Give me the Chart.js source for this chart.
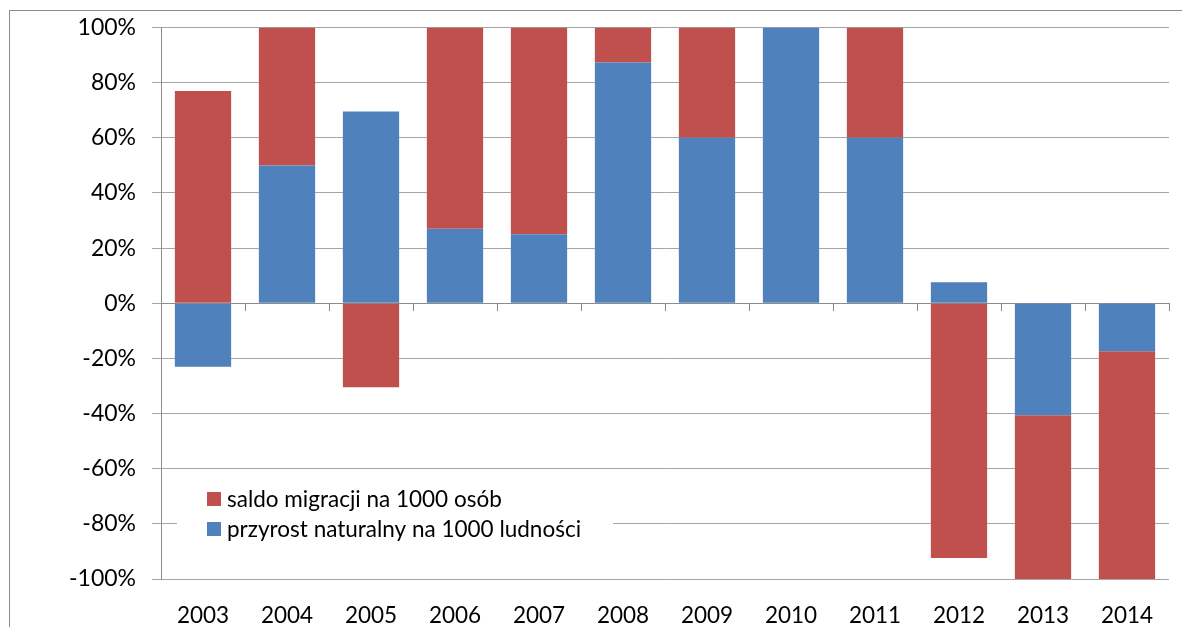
<!DOCTYPE html>
<html>
<head>
<meta charset="utf-8">
<script src="https://cdn.jsdelivr.net/npm/chart.js@4"></script>
<style>
  html, body { margin: 0; padding: 0; background: #fff; }
  #wrap { position: relative; width: 1182px; height: 627px; overflow: hidden; }
  #frame { position: absolute; left: 9px; top: 10px; width: 1200px; height: 700px; border: 1px solid #8c8c8c; box-sizing: border-box; }
  canvas { position: absolute; left: 0; top: 0; }
</style>
</head>
<body>
<div id="wrap">
  <div id="frame"></div>
  <canvas id="chart" width="1182" height="627"></canvas>
</div>
<script>
// lata
const years = ['2003', '2004', '2005', '2006', '2007', '2008', '2009', '2010', '2011', '2012', '2013', '2014'];
// udział w %
const przyrostNaturalny = [-23, 50, 69.5, 27, 25, 87.3, 60, 100, 60, 7.6, -40.6, -17.4];
const saldoMigracji = [77, 50, -30.5, 73, 75, 12.7, 40, 0, 40, -92.4, -59.4, -82.6];
const yTicks = [-100, -80, -60, -40, -20, 0, 20, 40, 60, 80, 100];

const FONT = 'Lato, "Noto Sans", sans-serif';
const RED = '#C0504D';
const BLUE = '#4F81BD';

// legenda wewnątrz obszaru wykresu (lewy dół)
const insideLegend = {
    id: 'insideLegend',
    afterDatasetsDraw(chart) {
        const c = chart.ctx;
        const items = [chart.data.datasets[1], chart.data.datasets[0]];
        c.save();
        c.fillStyle = '#fff';
        c.fillRect(177, 475, 436, 70);
        c.font = '22.5px ' + FONT;
        c.textBaseline = 'middle';
        items.forEach((ds, i) => {
            const y = 499 + i * 30;
            c.fillStyle = ds.backgroundColor;
            c.fillRect(207, y - 7, 14, 14);
            c.fillStyle = '#000';
            c.fillText(ds.label, 227, y + 1);
        });
        c.restore();
    }
};

new Chart(document.getElementById('chart'), {
    type: 'bar',
    data: {
        labels: years,
        datasets: [
            { label: 'przyrost naturalny na 1000 ludności', data: przyrostNaturalny, backgroundColor: BLUE },
            { label: 'saldo migracji na 1000 osób', data: saldoMigracji, backgroundColor: RED }
        ]
    },
    options: {
        responsive: false,
        animation: false,
        barPercentage: 0.67,
        categoryPercentage: 1,
        layout: { padding: { top: 27, right: 13, left: 0, bottom: 0 } },
        plugins: {
            legend: { display: false },
            tooltip: { enabled: false }
        },
        scales: {
            x: {
                stacked: true,
                position: { y: 0 },
                grid: { display: true, drawOnChartArea: false, offset: true, tickLength: 7, color: '#8c8c8c' },
                border: { display: true, color: '#8c8c8c', width: 1 },
                ticks: { display: false }
            },
            xLabels: {
                type: 'category',
                labels: years,
                position: 'bottom',
                offset: true,
                grid: { display: false },
                border: { display: false },
                ticks: { color: '#000', font: { family: FONT, size: 22.5 }, padding: 15, maxRotation: 0 },
                afterFit(scale) { scale.height = 48; }
            },
            y: {
                stacked: true,
                min: -100,
                max: 100,
                afterBuildTicks(scale) { scale.ticks = yTicks.map(v => ({ value: v })); },
                grid: { color: '#a6a6a6', tickLength: 9, lineWidth: 1 },
                border: { display: true, color: '#8c8c8c' },
                ticks: {
                    color: '#000',
                    font: { family: FONT, size: 23, lineHeight: 1 },
                    padding: 16,
                    callback: v => v + '%'
                },
                afterFit(scale) { scale.width = 161; }
            }
        }
    },
    plugins: [insideLegend]
});
</script>
</body>
</html>
